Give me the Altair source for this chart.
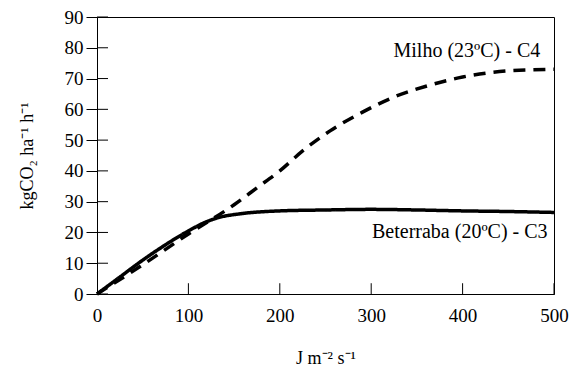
import altair as alt
import pandas as pd

# Beterraba (C3) curve
beterraba_x = [0, 25, 50, 75, 100, 120, 135, 155, 200, 250, 300, 350, 400, 450, 500]
beterraba_y = [0, 5.5, 11, 16, 20.5, 23.5, 25, 26, 27, 27.3, 27.5, 27.3, 27, 26.8, 26.5]

# Milho (C4) curve
milho_x = [0, 50, 100, 150, 175, 200, 225, 255, 290, 325, 360, 400, 450, 500]
milho_y = [0, 9.5, 19.5, 29, 34.5, 40, 46.5, 53, 59, 64, 67.5, 70.5, 72.5, 73]

series_names = ["Beterraba", "Milho"]
label_texts = ["Beterraba (20ºC) - C3", "Milho (23ºC) - C4"]
label_x = [493, 485]
label_y = [20.3, 79]

x_ticks = [0, 100, 200, 300, 400, 500]
y_ticks = [0, 10, 20, 30, 40, 50, 60, 70, 80, 90]

rows = []
for x, y in zip(beterraba_x, beterraba_y):
    rows.append({"x": x, "y": y, "s": "Beterraba"})
for x, y in zip(milho_x, milho_y):
    rows.append({"x": x, "y": y, "s": "Milho"})
df = pd.DataFrame(rows)

labels = pd.DataFrame({"x": label_x, "y": label_y, "t": label_texts})
xt = pd.DataFrame({"v": x_ticks[1:]})
yt = pd.DataFrame({"v": y_ticks})

FONT = "Liberation Serif, Times New Roman, serif"

xscale = alt.Scale(domain=[0, 500], nice=False, zero=True)
yscale = alt.Scale(domain=[0, 90], nice=False)

xaxis = alt.Axis(title="J m⁻² s⁻¹", values=x_ticks, ticks=False, tickSize=0,
                 labelPadding=12, grid=False, titlePadding=24, labelOverlap=False,
                 labelFlush=False, labelFont=FONT, labelFontSize=19, titleFont=FONT,
                 titleFontSize=18, titleFontWeight="normal", labelColor="black",
                 titleColor="black", domainColor="black")
yaxis = alt.Axis(title="kgCO₂ ha⁻¹ h⁻¹", values=y_ticks, tickSize=11, tickColor="black",
                 labelPadding=3, grid=False, titlePadding=28, labelOverlap=False,
                 labelFlush=False, labelFont=FONT, labelFontSize=19, titleFont=FONT,
                 titleFontSize=18, titleFontWeight="normal", labelColor="black",
                 titleColor="black", domainColor="black")

lines = alt.Chart(df).mark_line(strokeWidth=3.5, interpolate="monotone", color="black").encode(
    x=alt.X("x:Q", scale=xscale, axis=xaxis),
    y=alt.Y("y:Q", scale=yscale, axis=yaxis),
    strokeDash=alt.StrokeDash("s:N", scale=alt.Scale(domain=series_names, range=[[1, 0], [12, 8]]), legend=None),
    detail="s:N",
)

ytick_in = alt.Chart(yt).mark_rule(color="black", strokeWidth=1).encode(
    y=alt.Y("v:Q", scale=yscale, axis=yaxis), x=alt.value(0), x2=alt.value(11)
)
xtick_in = alt.Chart(xt).transform_calculate(y0="0", y1="3.5").mark_rule(color="black", strokeWidth=1).encode(
    x=alt.X("v:Q", scale=xscale, axis=xaxis),
    y=alt.Y("y0:Q", scale=yscale, axis=yaxis),
    y2="y1:Q",
)

texts = alt.Chart(labels).mark_text(align="right", baseline="middle", font=FONT, fontSize=20, color="black").encode(
    x=alt.X("x:Q", scale=xscale, axis=xaxis), y=alt.Y("y:Q", scale=yscale, axis=yaxis), text="t:N"
)

chart = alt.layer(lines, ytick_in, xtick_in, texts).properties(
    width=561, height=359, background="white",
    autosize=alt.AutoSizeParams(type="fit", contains="padding"),
    padding={"left": 10, "top": 0, "right": 0, "bottom": 0}
).configure_view(stroke="black", strokeWidth=1).configure_axis(
    domainColor="black", tickColor="black", labelColor="black", titleColor="black",
    labelFont=FONT, titleFont=FONT, labelFontSize=19, titleFontSize=18,
    titleFontWeight="normal", domainWidth=1, tickWidth=1
)

chart.save("out.html", embed_options={"renderer": "svg", "actions": False})
